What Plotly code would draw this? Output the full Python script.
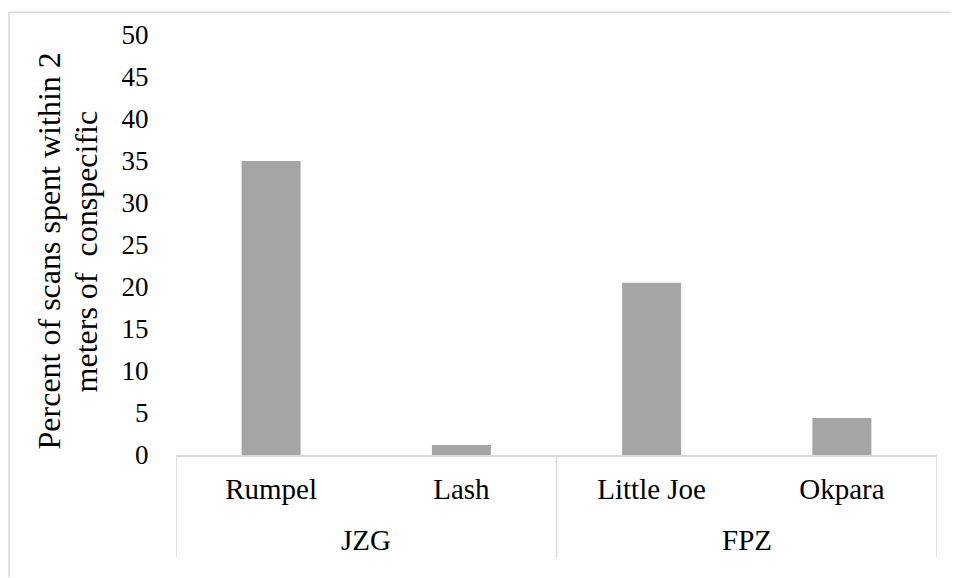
import plotly.graph_objects as go

groups = ["JZG", "JZG", "FPZ", "FPZ"]
animals = ["Rumpel", "Lash", "Little Joe", "Okpara"]
values = [35.0, 1.2, 20.5, 4.4]
y_ticks = [0, 5, 10, 15, 20, 25, 30, 35, 40, 45, 50]
y_title_lines = ["Percent of scans spent within 2", "meters of  conspecific"]

FONT = "Liberation Serif"
GRID = "#D9D9D9"

# page body has an 8px margin, so the figure is made 8px smaller on each side
W, H = 950, 570
L, R, T, B = 168, 21, 24, 123
PW, PH = W - L - R, H - T - B

fig = go.Figure()
fig.add_trace(go.Bar(
    x=animals,
    y=values,
    marker=dict(color="#A5A5A5", line=dict(width=0)),
    width=0.31,
))

# group spans (category index ranges) derived from the groups list
spans = []
for i, g in enumerate(groups):
    if spans and spans[-1][0] == g:
        spans[-1][2] = i
    else:
        spans.append([g, i, i])

# chart-area frame: only the left and top edges are visible (the rest is cropped)
fx0 = -(L - 1) / PW
fy1 = 1 + (T - 1) / PH
shapes = [
    dict(type="line", xref="paper", yref="paper", x0=fx0, x1=fx0, y0=fy1, y1=-B / PH,
         line=dict(color=GRID, width=1.5), layer="below"),
    dict(type="line", xref="paper", yref="paper", x0=fx0, x1=1 + R / PW, y0=fy1, y1=fy1,
         line=dict(color=GRID, width=1.5), layer="below"),
]
annotations = []
div_bottom = -(558 - 455) / PH
bounds = [spans[0][1] - 0.5] + [s[2] + 0.5 for s in spans]
for b in bounds:
    shapes.append(dict(type="line", xref="x", yref="paper", x0=b, x1=b, y0=0, y1=div_bottom,
                       line=dict(color=GRID, width=1.5)))
for g, a, e in spans:
    annotations.append(dict(text=g, xref="x", yref="paper", x=(a + e) / 2, y=-(541 - 455) / PH,
                            showarrow=False, xanchor="center", yanchor="middle",
                            font=dict(family=FONT, size=29, color="black")))

# y-axis title as two rotated lines (tighter line spacing than Plotly's <br>)
title_x_px = [41, 78]
for line, xp in zip(y_title_lines, title_x_px):
    annotations.append(dict(text=line, xref="paper", yref="paper",
                            x=(xp - L) / PW, y=1 - (242 - T) / PH,
                            textangle=-90, showarrow=False,
                            xanchor="center", yanchor="middle",
                            font=dict(family=FONT, size=32, color="black")))

fig.update_layout(
    width=W, height=H,
    margin=dict(l=L, r=R, t=T, b=B),
    paper_bgcolor="white", plot_bgcolor="white",
    font=dict(family=FONT, size=27, color="black"),
    showlegend=False,
    bargap=0.69,
    shapes=shapes,
    annotations=annotations,
)
fig.update_xaxes(
    type="category", categoryorder="array", categoryarray=animals,
    range=[-0.5, len(animals) - 0.5],
    showline=True, linecolor=GRID, linewidth=1.5,
    showgrid=False, ticks="outside", ticklen=7, tickcolor="rgba(0,0,0,0)",
    tickfont=dict(family=FONT, size=29, color="black"),
)
fig.update_yaxes(
    range=[0, 50], tickvals=y_ticks,
    showgrid=False, zeroline=False, showline=False,
    ticks="outside", ticklen=21, tickcolor="rgba(0,0,0,0)",
    tickfont=dict(family=FONT, size=27, color="black"),
)

fig.write_html("out.html")
